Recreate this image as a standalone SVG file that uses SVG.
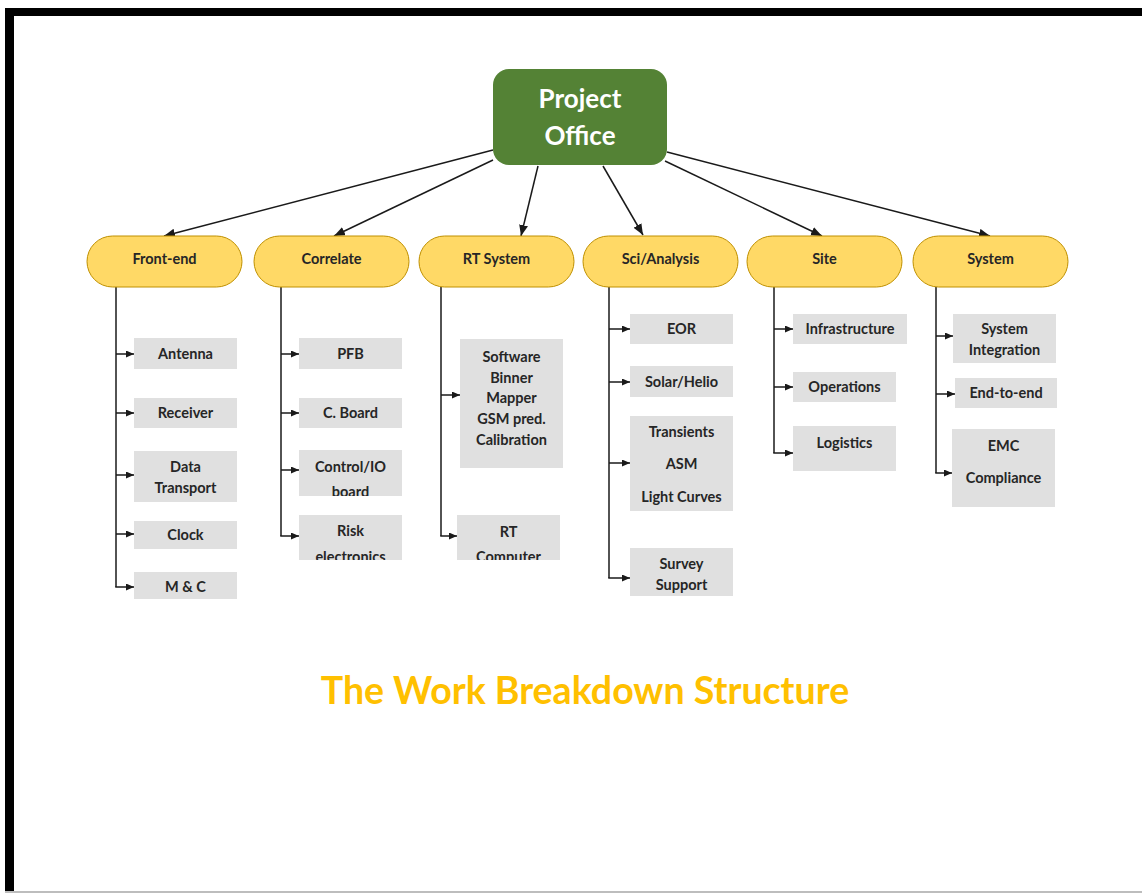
<svg xmlns="http://www.w3.org/2000/svg" width="1142" height="893" viewBox="0 0 1142 893">
  <style>
    .root { fill: #548235; }
    .root-t { font-family: Lato, "Noto Sans", "Liberation Sans", sans-serif; font-weight: bold; font-size: 26px; fill: #ffffff; text-anchor: middle; }
    .grp { fill: #ffd966; stroke: #bf9000; stroke-width: 1; }
    .grp-t { font-family: Lato, "Noto Sans", "Liberation Sans", sans-serif; font-weight: bold; font-size: 14.5px; fill: #262626; text-anchor: middle; }
    .item { fill: #e0e0e0; }
    .item-t { font-family: Lato, "Noto Sans", "Liberation Sans", sans-serif; font-weight: bold; font-size: 14.5px; fill: #262626; text-anchor: middle; }
    .link { stroke: #1a1a1a; stroke-width: 1.5; fill: none; }
    .title { font-family: Lato, "Noto Sans", "Liberation Sans", sans-serif; font-weight: bold; font-size: 37.5px; fill: #ffc000; text-anchor: middle; }
  </style>
  <defs>
    <marker id="arrowBig" markerUnits="userSpaceOnUse" markerWidth="12" markerHeight="10" refX="11" refY="4.5" orient="auto">
      <path d="M0,0 L11,4.5 L0,9 z" fill="#1a1a1a"/>
    </marker>
    <marker id="arrowSmall" markerUnits="userSpaceOnUse" markerWidth="9" markerHeight="8" refX="8" refY="3.5" orient="auto">
      <path d="M0,0 L8,3.5 L0,7 z" fill="#1a1a1a"/>
    </marker>
    <clipPath id="clipCtrl"><rect x="299" y="450" width="103" height="46"/></clipPath>
    <clipPath id="clipRisk"><rect x="299" y="515" width="103" height="45"/></clipPath>
    <clipPath id="clipRtc"><rect x="457" y="515" width="103" height="45"/></clipPath>
    <clipPath id="clipSurvey"><rect x="630" y="548" width="103" height="48"/></clipPath>
  </defs>

  <!-- page frame -->
  <rect x="0" y="0" width="1142" height="893" fill="#ffffff"/>
  <rect x="5" y="8" width="1137" height="8" fill="#000000"/>
  <rect x="5" y="8" width="9" height="883" fill="#000000"/>
  <rect x="5" y="891" width="1137" height="2" fill="#bdbdbd"/>

  <!-- connectors -->
  <g id="connectors">
    <line class="link" x1="493" y1="150" x2="164" y2="236" marker-end="url(#arrowBig)"/>
    <line class="link" x1="493" y1="160" x2="334" y2="236" marker-end="url(#arrowBig)"/>
    <line class="link" x1="538" y1="166" x2="521" y2="236" marker-end="url(#arrowBig)"/>
    <line class="link" x1="603" y1="166" x2="643" y2="235" marker-end="url(#arrowBig)"/>
    <line class="link" x1="665" y1="161" x2="822" y2="236" marker-end="url(#arrowBig)"/>
    <line class="link" x1="667" y1="152" x2="990" y2="236" marker-end="url(#arrowBig)"/>

    <!-- Front-end trunk -->
    <path class="link" d="M116,287 V587"/>
    <line class="link" x1="116" y1="354" x2="134" y2="354" marker-end="url(#arrowSmall)"/>
    <line class="link" x1="116" y1="413" x2="134" y2="413" marker-end="url(#arrowSmall)"/>
    <line class="link" x1="116" y1="475" x2="134" y2="475" marker-end="url(#arrowSmall)"/>
    <line class="link" x1="116" y1="534" x2="134" y2="534" marker-end="url(#arrowSmall)"/>
    <line class="link" x1="115.25" y1="587" x2="134" y2="587" marker-end="url(#arrowSmall)"/>

    <!-- Correlate trunk -->
    <path class="link" d="M281,287 V536"/>
    <line class="link" x1="281" y1="354" x2="299" y2="354" marker-end="url(#arrowSmall)"/>
    <line class="link" x1="281" y1="413" x2="299" y2="413" marker-end="url(#arrowSmall)"/>
    <line class="link" x1="281" y1="470" x2="299" y2="470" marker-end="url(#arrowSmall)"/>
    <line class="link" x1="280.25" y1="536" x2="299" y2="536" marker-end="url(#arrowSmall)"/>

    <!-- RT System trunk -->
    <path class="link" d="M441,287 V536"/>
    <line class="link" x1="441" y1="395" x2="460" y2="395" marker-end="url(#arrowSmall)"/>
    <line class="link" x1="440.25" y1="536" x2="457" y2="536" marker-end="url(#arrowSmall)"/>

    <!-- Sci/Analysis trunk -->
    <path class="link" d="M609,287 V578"/>
    <line class="link" x1="609" y1="329" x2="630" y2="329" marker-end="url(#arrowSmall)"/>
    <line class="link" x1="609" y1="382" x2="630" y2="382" marker-end="url(#arrowSmall)"/>
    <line class="link" x1="609" y1="463" x2="630" y2="463" marker-end="url(#arrowSmall)"/>
    <line class="link" x1="608.25" y1="578" x2="630" y2="578" marker-end="url(#arrowSmall)"/>

    <!-- Site trunk -->
    <path class="link" d="M774,287 V453"/>
    <line class="link" x1="774" y1="329" x2="793" y2="329" marker-end="url(#arrowSmall)"/>
    <line class="link" x1="774" y1="387" x2="793" y2="387" marker-end="url(#arrowSmall)"/>
    <line class="link" x1="773.25" y1="453" x2="793" y2="453" marker-end="url(#arrowSmall)"/>

    <!-- System trunk -->
    <path class="link" d="M936,287 V473"/>
    <line class="link" x1="936" y1="336" x2="953" y2="336" marker-end="url(#arrowSmall)"/>
    <line class="link" x1="936" y1="394" x2="955" y2="394" marker-end="url(#arrowSmall)"/>
    <line class="link" x1="935.25" y1="473" x2="952" y2="473" marker-end="url(#arrowSmall)"/>
  </g>

  <!-- root -->
  <g id="project-office">
    <rect class="root" x="493" y="69" width="174" height="96" rx="16"/>
    <text class="root-t" x="580" y="108">Project</text>
    <text class="root-t" x="580" y="145">Office</text>
  </g>

  <!-- second level -->
  <g id="front-end"><rect class="grp" x="87" y="236" width="155" height="51" rx="25.5"/><text class="grp-t" x="164.5" y="264">Front-end</text></g>
  <g id="correlate"><rect class="grp" x="254" y="236" width="155" height="51" rx="25.5"/><text class="grp-t" x="331.5" y="264">Correlate</text></g>
  <g id="rt-system"><rect class="grp" x="419" y="236" width="155" height="51" rx="25.5"/><text class="grp-t" x="496.5" y="264">RT System</text></g>
  <g id="sci-analysis"><rect class="grp" x="583" y="236" width="155" height="51" rx="25.5"/><text class="grp-t" x="660.5" y="264">Sci/Analysis</text></g>
  <g id="site"><rect class="grp" x="747" y="236" width="155" height="51" rx="25.5"/><text class="grp-t" x="824.5" y="264">Site</text></g>
  <g id="system"><rect class="grp" x="913" y="236" width="155" height="51" rx="25.5"/><text class="grp-t" x="990.5" y="264">System</text></g>

  <!-- Front-end items -->
  <g id="antenna"><rect class="item" x="134" y="338" width="103" height="31"/><text class="item-t" x="185.5" y="359">Antenna</text></g>
  <g id="receiver"><rect class="item" x="134" y="398" width="103" height="30"/><text class="item-t" x="185.5" y="418">Receiver</text></g>
  <g id="data-transport"><rect class="item" x="134" y="451" width="103" height="51"/><text class="item-t" x="185.5" y="472">Data</text><text class="item-t" x="185.5" y="493">Transport</text></g>
  <g id="clock"><rect class="item" x="134" y="521" width="103" height="28"/><text class="item-t" x="185.5" y="540">Clock</text></g>
  <g id="m-and-c"><rect class="item" x="134" y="572" width="103" height="27"/><text class="item-t" x="185.5" y="592">M &amp; C</text></g>

  <!-- Correlate items -->
  <g id="pfb"><rect class="item" x="299" y="338" width="103" height="31"/><text class="item-t" x="350.5" y="359">PFB</text></g>
  <g id="c-board"><rect class="item" x="299" y="398" width="103" height="30"/><text class="item-t" x="350.5" y="418">C. Board</text></g>
  <g id="control-io"><rect class="item" x="299" y="450" width="103" height="46"/><g clip-path="url(#clipCtrl)"><text class="item-t" x="350.5" y="472">Control/IO</text><text class="item-t" x="350.5" y="496.5">board</text></g></g>
  <g id="risk-electronics"><rect class="item" x="299" y="515" width="103" height="45"/><g clip-path="url(#clipRisk)"><text class="item-t" x="350.5" y="536">Risk</text><text class="item-t" x="350.5" y="562">electronics</text></g></g>

  <!-- RT System items -->
  <g id="software"><rect class="item" x="460" y="339" width="103" height="129"/>
    <text class="item-t" x="511.5" y="362">Software</text>
    <text class="item-t" x="511.5" y="383">Binner</text>
    <text class="item-t" x="511.5" y="403">Mapper</text>
    <text class="item-t" x="511.5" y="424">GSM pred.</text>
    <text class="item-t" x="511.5" y="445">Calibration</text>
  </g>
  <g id="rt-computer"><rect class="item" x="457" y="515" width="103" height="45"/><g clip-path="url(#clipRtc)"><text class="item-t" x="508.5" y="537">RT</text><text class="item-t" x="508.5" y="562">Computer</text></g></g>

  <!-- Sci/Analysis items -->
  <g id="eor"><rect class="item" x="630" y="314" width="103" height="30"/><text class="item-t" x="681.5" y="334">EOR</text></g>
  <g id="solar-helio"><rect class="item" x="630" y="366" width="103" height="31"/><text class="item-t" x="681.5" y="387">Solar/Helio</text></g>
  <g id="transients"><rect class="item" x="630" y="416" width="103" height="95"/>
    <text class="item-t" x="681.5" y="437">Transients</text>
    <text class="item-t" x="681.5" y="469">ASM</text>
    <text class="item-t" x="681.5" y="502">Light Curves</text>
  </g>
  <g id="survey-support"><rect class="item" x="630" y="548" width="103" height="48"/><g clip-path="url(#clipSurvey)"><text class="item-t" x="681.5" y="569">Survey</text><text class="item-t" x="681.5" y="590">Support</text></g></g>

  <!-- Site items -->
  <g id="infrastructure"><rect class="item" x="793" y="314" width="114" height="30"/><text class="item-t" x="850" y="334">Infrastructure</text></g>
  <g id="operations"><rect class="item" x="793" y="372" width="103" height="30"/><text class="item-t" x="844.5" y="392">Operations</text></g>
  <g id="logistics"><rect class="item" x="793" y="426" width="103" height="45"/><text class="item-t" x="844.5" y="448">Logistics</text></g>

  <!-- System items -->
  <g id="system-integration"><rect class="item" x="953" y="314" width="103" height="49"/><text class="item-t" x="1004.5" y="334">System</text><text class="item-t" x="1004.5" y="355">Integration</text></g>
  <g id="end-to-end"><rect class="item" x="955" y="378" width="102" height="30"/><text class="item-t" x="1006" y="398">End-to-end</text></g>
  <g id="emc-compliance"><rect class="item" x="952" y="429" width="103" height="78"/><text class="item-t" x="1003.5" y="451">EMC</text><text class="item-t" x="1003.5" y="483">Compliance</text></g>

  <!-- caption -->
  <text class="title" x="585" y="704">The Work Breakdown Structure</text>
</svg>
